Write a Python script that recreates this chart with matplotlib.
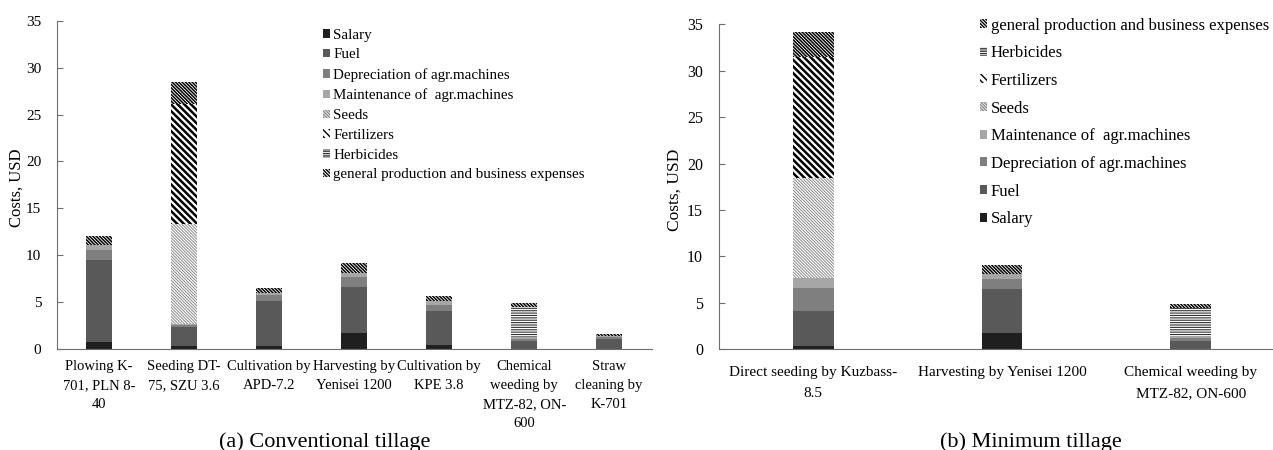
import numpy as np
import matplotlib
matplotlib.use('Agg')
from matplotlib import pyplot as plt

plt.rcParams['font.family'] = ['Liberation Serif', 'DejaVu Serif']

# cost items, bottom to top
items = ['Salary', 'Fuel', 'Depreciation of agr.machines', 'Maintenance of  agr.machines',
         'Seeds', 'Fertilizers', 'Herbicides', 'general production and business expenses']

# (a) conventional tillage
conv_ops = ['Plowing K-\n701, PLN 8-\n40', 'Seeding DT-\n75, SZU 3.6', 'Cultivation by\nAPD-7.2',
            'Harvesting by\nYenisei 1200', 'Cultivation by\nKPE 3.8',
            'Chemical\nweeding by\nMTZ-82, ON-\n600', 'Straw\ncleaning by\nK-701']
conv_salary = [0.72, 0.36, 0.36, 1.75, 0.46, 0.05, 0.05]
conv_fuel = [8.80, 1.95, 4.76, 4.82, 3.56, 0.77, 1.05]
conv_depr = [1.07, 0.25, 0.60, 1.07, 0.67, 0.28, 0.18]
conv_maint = [0.50, 0.11, 0.28, 0.50, 0.46, 0.14, 0.11]
conv_seeds = [0, 10.70, 0, 0, 0, 0, 0]
conv_fert = [0, 12.80, 0, 0, 0, 0, 0]
conv_herb = [0, 0, 0, 0, 0, 3.27, 0]
conv_general = [1.00, 2.27, 0.50, 0.99, 0.50, 0.36, 0.21]

# (b) minimum tillage
min_ops = ['Direct seeding by Kuzbass-\n8.5', 'Harvesting by Yenisei 1200',
           'Chemical weeding by\nMTZ-82, ON-600']
min_salary = [0.32, 1.76, 0.05]
min_fuel = [3.81, 4.71, 0.85]
min_depr = [2.45, 1.08, 0.32]
min_maint = [1.07, 0.53, 0.18]
min_seeds = [10.75, 0, 0]
min_fert = [13.10, 0, 0]
min_herb = [0, 0, 3.09]
min_general = [2.67, 0.97, 0.43]

# face, hatch, hatch colour, hatch linewidth
styles = [
    ('#1f1f1f', None, '#1f1f1f', 1.0),
    ('#595959', None, '#595959', 1.0),
    ('#7f7f7f', None, '#7f7f7f', 1.0),
    ('#a6a6a6', None, '#a6a6a6', 1.0),
    ('white', '\\' * 11, '#8a8a8a', 0.7),
    ('white', '\\' * 5, 'black', 1.8),
    ('white', '-' * 7, '#333333', 0.8),
    ('white', '\\' * 10, 'black', 1.1),
]


def stacked(ax, labels, series, width, lsp):
    x = np.arange(len(labels))
    bottom = np.zeros(len(labels))
    handles = []
    for name, vals, (face, hatch, hc, hlw) in zip(items, series, styles):
        vals = np.array(vals, dtype=float)
        with plt.rc_context({'hatch.linewidth': hlw}):
            bars = ax.bar(x, vals, width, bottom=bottom, color=face, edgecolor=hc,
                          linewidth=0, hatch=hatch, label=name)
            for p in bars:
                if hasattr(p, 'set_hatch_linewidth'):
                    p.set_hatch_linewidth(hlw)
        handles.append(bars)
        bottom += vals
    ax.set_xlim(-0.5, len(labels) - 0.5)
    ax.set_ylim(0, 35)
    ax.set_yticks(range(0, 36, 5))
    ax.set_xticks(x)
    ax.set_xticklabels(labels, linespacing=lsp)
    for s in ['top', 'right']:
        ax.spines[s].set_visible(False)
    for s in ['left', 'bottom']:
        ax.spines[s].set_color('#6e6e6e')
    ax.tick_params(axis='y', direction='in', length=4, color='#6e6e6e')
    ax.tick_params(axis='x', length=0)
    return handles


fig = plt.figure(figsize=(12.73, 4.5), dpi=100)
ax1 = fig.add_axes([0.0445, 0.2244, 0.4674, 0.7296])
ax2 = fig.add_axes([0.5648, 0.2238, 0.4446, 0.7222])

h1 = stacked(ax1, conv_ops,
             [conv_salary, conv_fuel, conv_depr, conv_maint, conv_seeds, conv_fert, conv_herb, conv_general],
             0.31, 1.58)
h2 = stacked(ax2, min_ops,
             [min_salary, min_fuel, min_depr, min_maint, min_seeds, min_fert, min_herb, min_general],
             0.216, 1.8)

ax1.tick_params(axis='y', labelsize=11, pad=11)
ax1.tick_params(axis='x', labelsize=10.5, pad=8)
ax2.tick_params(axis='y', labelsize=11.5, pad=11.5)
ax2.tick_params(axis='x', labelsize=11, pad=12)

ax1.set_ylabel('Costs, USD', fontsize=12)
ax1.yaxis.set_label_coords(-0.053, 0.49)
ax2.set_ylabel('Costs, USD', fontsize=12.5)
ax2.yaxis.set_label_coords(-0.065, 0.49)

fig.legend(h1, items, loc='upper left', bbox_to_anchor=(0.2537, 0.9365), frameon=False,
           fontsize=10.8, handlelength=0.5, handleheight=0.5, handletextpad=0.2,
           labelspacing=0.45, borderpad=0, borderaxespad=0)
fig.legend(h2[::-1], items[::-1], loc='upper left', bbox_to_anchor=(0.7698, 0.961), frameon=False,
           fontsize=12, handlelength=0.45, handleheight=0.45, handletextpad=0.2,
           labelspacing=0.70, borderpad=0, borderaxespad=0)

fig.text(0.255, 0.017, '(a) Conventional tillage', ha='center', va='center', fontsize=16)
fig.text(0.81, 0.017, '(b) Minimum tillage', ha='center', va='center', fontsize=16)

fig.savefig('out.png', dpi=100)
